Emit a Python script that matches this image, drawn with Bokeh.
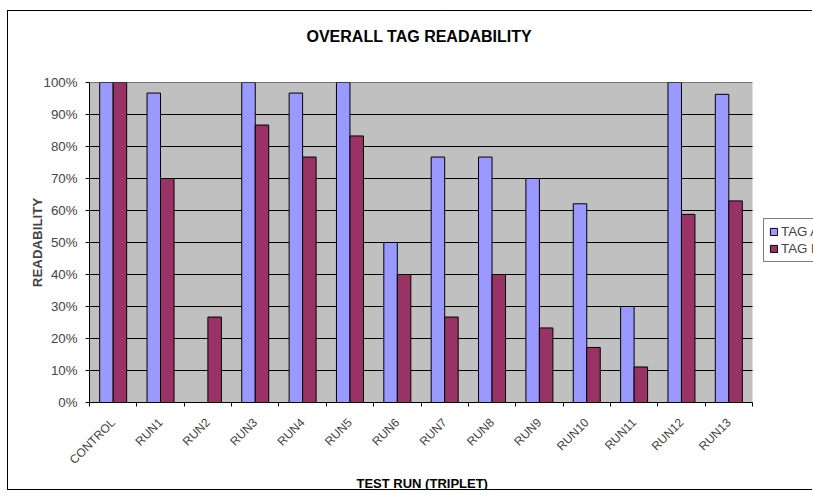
from math import pi
from bokeh.plotting import figure
from bokeh.models import (ColumnDataSource, Range1d, FixedTicker, NumeralTickFormatter,
                          Legend, LegendItem, BoxAnnotation, Title)
from bokeh.embed import file_html
from bokeh.resources import INLINE

# ---- data ----
categories = ["CONTROL", "RUN1", "RUN2", "RUN3", "RUN4", "RUN5", "RUN6", "RUN7",
              "RUN8", "RUN9", "RUN10", "RUN11", "RUN12", "RUN13"]
tag_a = [1.000, 0.967, 0.000, 1.000, 0.967, 1.000, 0.500, 0.767,
         0.767, 0.700, 0.621, 0.300, 1.000, 0.963]
tag_b = [1.000, 0.700, 0.267, 0.867, 0.767, 0.833, 0.400, 0.267,
         0.400, 0.233, 0.172, 0.111, 0.588, 0.630]
y_ticks = [0.0, 0.1, 0.2, 0.3, 0.4, 0.5, 0.6, 0.7, 0.8, 0.9, 1.0]

FONT = "Liberation Sans"
BLUE = "#9999FF"
RED = "#993366"
GRAY = "#C0C0C0"

# ---- layout (pixels) ----
FIG_W, FIG_H = 805, 480
BORDER_L = 81          # space left of the plot area
PLOT_W = 663           # width of the gray plot area
# the frame runs to the right edge of the canvas so the legend can be cut off there

n = len(categories)
x_end = n * (FIG_W - BORDER_L) / PLOT_W
bw = 0.285  # bar width in category units (gap width 150%)
centers = [i + 0.5 for i in range(n)]
src = ColumnDataSource(dict(
    cat=categories,
    xa=[c - bw / 2 for c in centers],
    xb=[c + bw / 2 for c in centers],
    a=tag_a, b=tag_b,
))
grid_src = ColumnDataSource(dict(y=y_ticks, x0=[0] * len(y_ticks), x1=[n] * len(y_ticks)))

p = figure(width=FIG_W, height=FIG_H, output_backend="svg", toolbar_location=None,
           x_range=Range1d(0, x_end), y_range=Range1d(0, 1),
           min_border_left=BORDER_L, min_border_right=0, min_border_top=71, min_border_bottom=89)
p.styles = {"margin-left": "7px", "margin-top": "10px",
            "border-left": "1px solid black", "border-top": "1px solid black",
            "border-bottom": "1px solid black", "border-right": "0px none"}

p.title.text = ""
p.title.standoff = 0
p.title.visible = False

spacer = Title(text=" ", text_font=FONT, text_font_size="16px", standoff=19)
p.add_layout(spacer, "above")
main_title = Title(text="OVERALL TAG READABILITY", align="left", offset=217,
                   text_font=FONT, text_font_size="16px", text_font_style="bold",
                   text_color="black", standoff=0)
p.add_layout(main_title, "above")

p.background_fill_color = "white"
p.border_fill_color = "white"
p.outline_line_color = None
p.add_layout(BoxAnnotation(left=0, right=n, bottom=0, top=1, fill_color=GRAY,
                           fill_alpha=1, line_color=None, level="underlay"))

p.segment(x0="x0", x1="x1", y0="y", y1="y", source=grid_src,
          line_color="black", line_width=1)

ra = p.vbar(x="xa", top="a", width=bw, bottom=0, source=src,
            fill_color=BLUE, line_color="black", line_width=1)
rb = p.vbar(x="xb", top="b", width=bw, bottom=0, source=src,
            fill_color=RED, line_color="black", line_width=1)

p.xgrid.grid_line_color = None
p.ygrid.grid_line_color = None

# y axis
yax = p.yaxis[0]
yax.ticker = FixedTicker(ticks=y_ticks, minor_ticks=[])
yax.formatter = NumeralTickFormatter(format="0%")
yax.axis_label = "READABILITY"
yax.axis_label_text_font = FONT
yax.axis_label_text_font_size = "13.3px"
yax.axis_label_text_font_style = "bold"
yax.axis_label_standoff = -5
yax.major_label_text_font = FONT
yax.major_label_text_font_size = "13.3px"
yax.major_label_standoff = 8
yax.major_tick_out = 4
yax.major_tick_in = 0
yax.axis_line_color = "black"
yax.major_tick_line_color = "black"

# x axis (category labels centred, tick marks between categories)
xax = p.xaxis[0]
xax.bounds = (0, n)
xax.ticker = FixedTicker(ticks=centers, minor_ticks=list(range(n + 1)))
xax.major_label_overrides = {c: lab for c, lab in zip(centers, categories)}
xax.major_label_orientation = pi / 4
xax.major_label_text_font = FONT
xax.major_label_text_font_size = "12px"
xax.major_tick_out = 0
xax.major_tick_in = 0
xax.major_label_standoff = 14
xax.major_tick_line_color = None
xax.minor_tick_line_color = "black"
xax.minor_tick_out = 4
xax.minor_tick_in = 0
xax.axis_line_color = "black"
xax.axis_label_standoff = 0

x_title = Title(text="TEST RUN (TRIPLET)", align="left", offset=267,
                vertical_align="middle",
                text_font=FONT, text_font_size="13px", text_font_style="bold",
                text_color="black", standoff=0)
p.add_layout(x_title, "below")

legend = Legend(items=[LegendItem(label="TAG A", renderers=[ra]),
                       LegendItem(label="TAG B", renderers=[rb])],
                location=(674, 140), orientation="vertical",
                glyph_width=9, glyph_height=9, label_height=14, spacing=2,
                padding=5, margin=0, label_standoff=3,
                label_text_font=FONT, label_text_font_size="13.3px",
                border_line_color="black", border_line_width=1,
                background_fill_color="white", background_fill_alpha=1)
p.add_layout(legend, "center")

open("out.html", "w").write(file_html(p, INLINE))
